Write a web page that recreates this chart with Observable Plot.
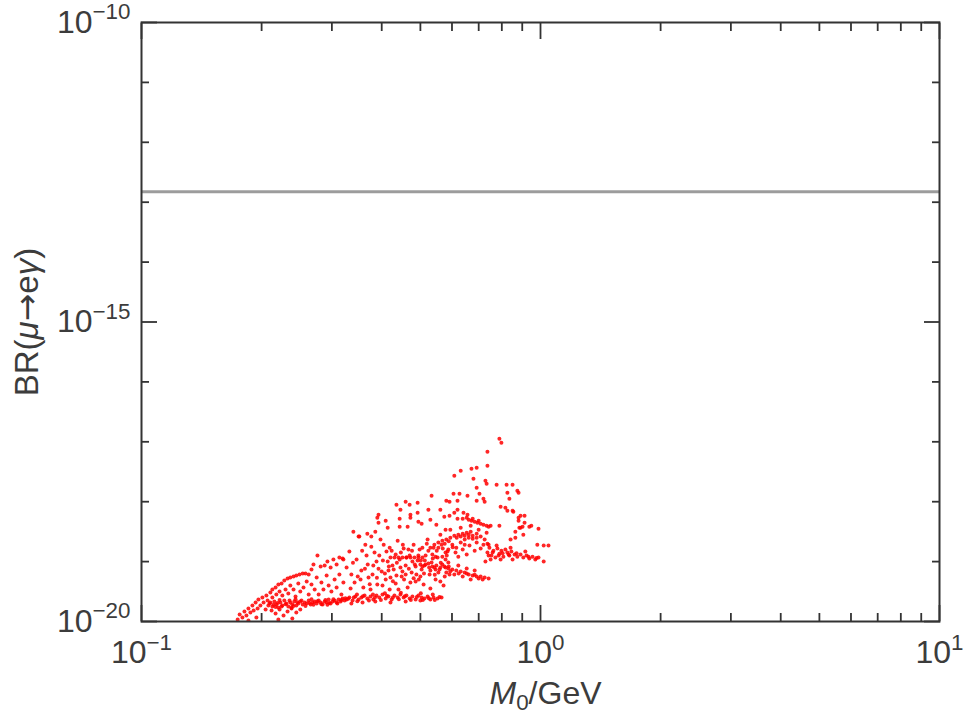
<!DOCTYPE html>
<html><head><meta charset="utf-8">
<script src="https://cdn.jsdelivr.net/npm/d3@7"></script>
<script src="https://cdn.jsdelivr.net/npm/@observablehq/plot@0.6"></script>
<style>html,body{margin:0;padding:0;background:#fff}</style>
</head><body><div id="chart"></div>
<script>
// Values, as [log10(M0/GeV), log10(BR)]
const tailPts = [[-0.759,-19.967],[-0.754,-19.883],[-0.747,-19.933],[-0.742,-19.833],[-0.737,-19.9],[-0.732,-19.783],[-0.727,-19.85],[-0.722,-19.733],[-0.719,-19.817],[-0.714,-19.683],[-0.709,-19.783],[-0.707,-19.633],[-0.702,-19.733],[-0.697,-19.6],[-0.694,-19.683],[-0.689,-19.8],[-0.687,-19.567],[-0.684,-19.65],[-0.732,-19.983],[-0.712,-19.933]];
const envelopePts = [[-0.677,-19.517],[-0.672,-19.467],[-0.664,-19.433],[-0.657,-19.383],[-0.649,-19.367],[-0.642,-19.317],[-0.634,-19.283],[-0.627,-19.267],[-0.619,-19.25],[-0.612,-19.233],[-0.604,-19.217],[-0.596,-19.2],[-0.589,-19.2],[-0.581,-19.217],[-0.574,-19.133],[-0.569,-19.05],[-0.559,-18.9],[-0.551,-19.083],[-0.541,-19.067],[-0.534,-19.0],[-0.526,-19.1],[-0.519,-18.967],[-0.511,-19.05],[-0.504,-18.933],[-0.496,-18.95]];
const interiorPts = [[-0.672,-19.6],[-0.662,-19.55],[-0.654,-19.5],[-0.647,-19.567],[-0.639,-19.467],[-0.632,-19.533],[-0.627,-19.4],[-0.619,-19.467],[-0.614,-19.583],[-0.607,-19.367],[-0.602,-19.5],[-0.594,-19.433],[-0.586,-19.333],[-0.581,-19.55],[-0.574,-19.383],[-0.566,-19.467],[-0.561,-19.267],[-0.556,-19.55],[-0.549,-19.35],[-0.544,-19.467],[-0.536,-19.233],[-0.531,-19.4],[-0.524,-19.5],[-0.516,-19.3],[-0.511,-19.433],[-0.504,-19.217],[-0.499,-19.55],[-0.494,-19.35]];
const lowBandPts = [[-0.682,-19.733],[-0.677,-19.683],[-0.672,-19.75],[-0.667,-19.667],[-0.662,-19.717],[-0.657,-19.767],[-0.652,-19.683],[-0.647,-19.733],[-0.642,-19.65],[-0.637,-19.7],[-0.632,-19.75],[-0.627,-19.683],[-0.622,-19.717],[-0.617,-19.667],[-0.612,-19.733],[-0.607,-19.7],[-0.602,-19.667],[-0.596,-19.717],[-0.591,-19.683],[-0.586,-19.7],[-0.581,-19.65],[-0.576,-19.717],[-0.571,-19.683],[-0.566,-19.667],[-0.561,-19.7],[-0.556,-19.65],[-0.551,-19.683],[-0.546,-19.717],[-0.541,-19.667],[-0.536,-19.683],[-0.531,-19.633],[-0.526,-19.7],[-0.521,-19.667],[-0.516,-19.65],[-0.511,-19.683],[-0.506,-19.633],[-0.501,-19.667],[-0.496,-19.617],[-0.491,-19.65],
 [-0.674,-19.817],[-0.664,-19.867],[-0.654,-19.8],[-0.644,-19.9],[-0.634,-19.833],[-0.624,-19.783],[-0.612,-19.85],[-0.602,-19.8],[-0.657,-19.967],[-0.622,-19.95],
 [-0.679,-19.7],[-0.669,-19.72],[-0.659,-19.69],[-0.649,-19.75],[-0.639,-19.71],[-0.629,-19.65],[-0.619,-19.74],[-0.609,-19.68],[-0.599,-19.65],[-0.589,-19.74],[-0.579,-19.69],[-0.569,-19.72],[-0.559,-19.66],[-0.549,-19.71],[-0.539,-19.64],[-0.529,-19.69],[-0.519,-19.63],[-0.509,-19.7],[-0.499,-19.64],[-0.489,-19.61],[-0.654,-19.64],[-0.614,-19.63],[-0.574,-19.63],[-0.534,-19.72],[-0.664,-19.76],[-0.624,-19.77]];
const lowBand2Pts = [[-0.486,-19.633],[-0.479,-19.6],[-0.471,-19.65],[-0.464,-19.583],[-0.456,-19.633],[-0.449,-19.6],[-0.441,-19.567],[-0.434,-19.617],[-0.426,-19.583],[-0.419,-19.633],[-0.411,-19.567],[-0.404,-19.6],[-0.396,-19.55],[-0.388,-19.617],[-0.381,-19.583],[-0.373,-19.633],[-0.366,-19.567],[-0.358,-19.6],[-0.351,-19.55],[-0.343,-19.6],[-0.336,-19.567],[-0.328,-19.617],[-0.321,-19.583],[-0.313,-19.633],[-0.306,-19.567],[-0.298,-19.6],[-0.291,-19.617],[-0.283,-19.583],[-0.276,-19.633],[-0.268,-19.6],[-0.258,-19.617],[-0.248,-19.6],[-0.474,-19.7],[-0.446,-19.683],[-0.414,-19.667],[-0.376,-19.683],[-0.338,-19.667],[-0.301,-19.65],
 [-0.482,-19.62],[-0.468,-19.6],[-0.459,-19.66],[-0.445,-19.58],[-0.43,-19.65],[-0.415,-19.6],[-0.4,-19.64],[-0.385,-19.57],[-0.37,-19.6],[-0.355,-19.63],[-0.34,-19.58],[-0.325,-19.64],[-0.31,-19.59],[-0.295,-19.64],[-0.28,-19.61],[-0.265,-19.64],[-0.253,-19.59],[-0.46,-19.55],[-0.42,-19.55],[-0.39,-19.53],[-0.35,-19.52],[-0.3,-19.53],[-0.27,-19.55]];
const cloudPts = [[-0.494,-18.967],[-0.486,-19.1],[-0.479,-18.833],[-0.474,-19.217],[-0.466,-19.35],[-0.461,-18.967],[-0.456,-18.583],[-0.449,-19.15],[-0.444,-19.433],[-0.436,-18.9],[-0.431,-19.267],[-0.424,-18.75],[-0.419,-19.067],[-0.414,-18.5],[-0.409,-19.383],[-0.404,-18.9],[-0.398,-19.167],[-0.393,-18.717],[-0.388,-19.3],[-0.383,-19.0],[-0.378,-19.467],[-0.373,-18.817],[-0.368,-19.133],[-0.363,-19.367],[-0.358,-18.65],[-0.353,-18.967],[-0.348,-19.25],[-0.343,-18.783],[-0.338,-19.067],[-0.333,-19.433],[-0.328,-18.9],[-0.323,-19.183],[-0.318,-18.717],[-0.313,-19.333],[-0.308,-18.983],[-0.303,-18.8],[-0.298,-19.133],[-0.293,-19.383],[-0.288,-18.9],[-0.283,-18.633],[-0.278,-19.217],[-0.273,-19.017],[-0.268,-18.767],[-0.263,-19.3],[-0.258,-18.933],[-0.253,-19.133],[-0.248,-18.717],[-0.243,-19.4],[-0.238,-18.967],[-0.233,-18.833],[-0.228,-19.217],
 [-0.451,-19.3],[-0.426,-19.467],[-0.401,-18.633],[-0.376,-19.267],[-0.351,-19.1],[-0.326,-19.35],[-0.301,-19.25],[-0.276,-19.45],[-0.251,-19.333],[-0.476,-19.45],[-0.439,-18.717],[-0.363,-18.883],[-0.338,-19.217],[-0.313,-19.083],[-0.288,-19.05],[-0.263,-19.133],[-0.238,-19.1],[-0.321,-19.0],[-0.306,-18.9],[-0.346,-19.167],[-0.371,-19.067],[-0.386,-18.833],[-0.411,-19.0],[-0.421,-19.217],[-0.396,-19.4],[-0.356,-19.467],[-0.331,-18.8],[-0.296,-18.767],[-0.271,-18.883],[-0.246,-18.917],[-0.231,-19.017],[-0.256,-18.767],[-0.281,-18.817],[-0.311,-19.217],[-0.336,-18.933],[-0.361,-19.233],[-0.381,-19.15],
 [-0.376,-18.933],[-0.366,-18.933],[-0.356,-18.933],[-0.346,-18.933],[-0.336,-18.933],[-0.326,-18.933],[-0.316,-18.933],[-0.306,-18.933],[-0.296,-18.933],
 [-0.469,-18.5],[-0.454,-18.583],[-0.434,-18.533],[-0.424,-18.583],
 [-0.47,-19.02],[-0.458,-19.25],[-0.447,-18.82],[-0.433,-19.05],[-0.428,-19.38],[-0.416,-18.85],[-0.406,-19.12],[-0.395,-18.98],[-0.39,-19.2],[-0.378,-18.77],[-0.37,-19.33],[-0.36,-19.02],[-0.35,-18.85],[-0.342,-19.3],[-0.33,-19.12],[-0.322,-18.82],[-0.315,-19.05],[-0.305,-19.3],[-0.3,-18.98],[-0.292,-19.2],[-0.285,-18.7],[-0.279,-19.1],[-0.27,-18.95],[-0.265,-19.22],[-0.26,-18.82],[-0.25,-19.02],[-0.245,-18.78],[-0.24,-19.25],[-0.235,-18.9],[-0.23,-19.08],[-0.44,-19.12],[-0.41,-19.27],[-0.38,-19.08],[-0.345,-18.72],[-0.318,-19.28],[-0.29,-18.98]];
const midStreakPts = [[-0.301,-19.05],[-0.291,-19.067],[-0.281,-19.033],[-0.271,-19.083],[-0.261,-19.067],[-0.251,-19.1],[-0.241,-19.083],[-0.231,-19.117],[-0.221,-19.133],[-0.211,-19.15],[-0.2,-19.167],[-0.19,-19.183],[-0.18,-19.217],[-0.17,-19.233],[-0.16,-19.25],[-0.15,-19.25],[-0.14,-19.267],[-0.13,-19.283],[-0.236,-19.183],[-0.216,-19.217],[-0.195,-19.25],[-0.175,-19.3],[-0.155,-19.283],[-0.206,-19.067],[-0.185,-19.117],[-0.165,-19.15],[-0.256,-19.183],[-0.276,-19.15],
 [-0.296,-19.08],[-0.266,-19.1],[-0.246,-19.05],[-0.226,-19.16],[-0.205,-19.2],[-0.185,-19.2],[-0.165,-19.22],[-0.145,-19.3]];
const risingPts = [[-0.276,-18.767],[-0.266,-18.717],[-0.256,-18.683],[-0.246,-18.65],[-0.236,-18.633],[-0.226,-18.6],[-0.216,-18.567],[-0.206,-18.55],[-0.195,-18.533],[-0.185,-18.517],[-0.175,-18.5],[-0.221,-18.717],[-0.211,-18.767],[-0.2,-18.683],[-0.19,-18.633],[-0.18,-18.6],[-0.17,-18.567],[-0.16,-18.533],[-0.15,-18.583],[-0.14,-18.633],[-0.231,-18.8],[-0.213,-18.85],[-0.195,-18.8],[-0.178,-18.733],[-0.16,-18.683],[-0.143,-18.717],[-0.206,-18.917],[-0.185,-18.883],[-0.165,-18.817],[-0.226,-18.467],[-0.2,-18.433],[-0.175,-18.4],[-0.155,-18.467],[-0.135,-18.517],[-0.251,-18.55],[-0.238,-18.85],[-0.263,-18.917],[-0.15,-18.783],[-0.133,-18.7],
 [-0.24,-18.7],[-0.23,-18.66],[-0.21,-18.6],[-0.2,-18.58],[-0.19,-18.57],[-0.18,-18.55],[-0.17,-18.62],[-0.16,-18.6],[-0.22,-18.76],[-0.19,-18.72]];
const rightPts = [[-0.133,-18.85],[-0.128,-18.767],[-0.123,-18.9],[-0.118,-18.817],[-0.113,-18.933],[-0.108,-18.783],[-0.103,-18.867],[-0.098,-18.817],[-0.093,-18.917],[-0.088,-18.8],[-0.083,-18.85],[-0.078,-18.9],[-0.073,-18.833],[-0.065,-18.883],[-0.058,-18.917],[-0.05,-18.883],[-0.043,-18.933],[-0.035,-18.9],[-0.028,-18.95],[-0.02,-18.917],[-0.013,-18.967],[-0.005,-18.933],[0.008,-19.0],[-0.125,-18.967],[-0.1,-18.967],[-0.075,-18.767],[-0.13,-18.717],[-0.11,-18.733],[-0.008,-18.717],[0.008,-18.733],[0.02,-18.733],[-0.038,-18.833],[-0.07,-18.967],[-0.138,-19.0],
 [-0.13,-18.9],[-0.12,-18.85],[-0.105,-18.9],[-0.095,-18.86],[-0.08,-18.88],[-0.06,-18.86],[-0.03,-18.92],[-0.01,-18.94]];
const upperRightPts = [[-0.1,-18.083],[-0.088,-18.1],[-0.083,-18.15],[-0.07,-18.15],[-0.068,-18.167],[-0.05,-18.233],[-0.04,-18.233],[-0.055,-18.267],[-0.055,-18.317],[-0.04,-18.35],[-0.053,-18.433],[-0.045,-18.417],[-0.028,-18.417],[-0.023,-18.4],[-0.005,-18.45],[-0.063,-18.5],[-0.05,-18.433],[-0.043,-18.55],[-0.063,-18.6],[-0.103,-18.4],[-0.125,-18.4],[-0.075,-18.633]];
const upperStreakPts = [[-0.208,-18.133],[-0.216,-18.183],[-0.193,-18.183],[-0.183,-18.217],[-0.208,-18.283],[-0.195,-18.283],[-0.18,-18.3],[-0.173,-18.317],[-0.165,-18.333],[-0.158,-18.35],[-0.15,-18.367],[-0.143,-18.383],[-0.135,-18.4],[-0.13,-18.417],[-0.185,-18.267],[-0.17,-18.283],[-0.155,-18.317],[-0.228,-18.233],[-0.241,-18.25]];
const scatterPts = [[-0.103,-16.95],[-0.098,-17.017],[-0.133,-17.167],[-0.133,-17.4],[-0.16,-17.433],[-0.173,-17.45],[-0.2,-17.483],[-0.216,-17.567],[-0.168,-17.617],[-0.138,-17.65],[-0.135,-17.7],[-0.11,-17.717],[-0.085,-17.717],[-0.07,-17.717],[-0.16,-17.767],[-0.153,-17.867],[-0.083,-17.85],[-0.058,-17.817],[-0.055,-17.85],[-0.078,-17.95],[-0.183,-17.9],[-0.203,-17.867],[-0.218,-17.867],[-0.16,-17.983],[-0.143,-17.95],[-0.14,-18.0],[-0.236,-17.983],[-0.228,-18.0],[-0.273,-17.9],[-0.281,-18.133],[-0.308,-18.183],[-0.326,-18.217],[-0.326,-18.267],[-0.351,-18.133],[-0.361,-18.05],[-0.338,-18.0],[-0.328,-18.05],[-0.308,-18.017],[-0.406,-18.217],[-0.409,-18.267],[-0.406,-18.35],[-0.388,-18.317],[-0.383,-18.433],[-0.353,-18.283],[-0.353,-18.417],[-0.333,-18.417],[-0.306,-18.333],[-0.298,-18.367],[-0.276,-18.3],[-0.261,-18.383],[-0.238,-18.467],[-0.208,-17.983],[-0.251,-18.133]];
const boundBR = 1.5e-13;
const xMajor = [0.1, 1, 10];
const xMinor = [0.2,0.3,0.4,0.5,0.6,0.7,0.8,0.9,2,3,4,5,6,7,8,9];
const yMajor = [1e-20, 1e-15, 1e-10];
const yMinor = [1e-19,1e-18,1e-17,1e-16,1e-14,1e-13,1e-12,1e-11];
const xTitle = "M0/GeV";
const yTitle = "BR(μ→eγ)";

const data = [tailPts, envelopePts, interiorPts, lowBandPts, lowBand2Pts, cloudPts, midStreakPts, risingPts, rightPts, upperRightPts, upperStreakPts, scatterPts]
  .flat().map(([lm, lb]) => ({M0: 10 ** lm, BR: 10 ** lb}));

const expFmt = d => "10^" + Math.round(Math.log10(d));
const tickOpts = {tickFormat: () => "", label: null, stroke: "#333", strokeWidth: 1.8};
const marks = [
  Plot.ruleY([boundBR], {stroke: "#9c9c9c", strokeWidth: 3}),
  Plot.dot(data, {x: "M0", y: "BR", r: 2, fill: "#ff0000", fillOpacity: 0.85, stroke: "none", clip: true}),
  Plot.frame({stroke: "#333", strokeWidth: 2})
];
for (const anchor of ["bottom", "top"]) {
  marks.push(Plot.axisX({anchor, ticks: xMajor, tickSize: -16, ...tickOpts}));
  marks.push(Plot.axisX({anchor, ticks: xMinor, tickSize: -8, ...tickOpts}));
}
for (const anchor of ["left", "right"]) {
  marks.push(Plot.axisY({anchor, ticks: yMajor, tickSize: -16, ...tickOpts}));
  marks.push(Plot.axisY({anchor, ticks: yMinor, tickSize: -8, ...tickOpts}));
}
marks.push(Plot.axisX({anchor: "bottom", ticks: xMajor, tickSize: 0, tickPadding: 19, tickFormat: expFmt, fontSize: 32, label: null}));
marks.push(Plot.axisY({anchor: "left", ticks: yMajor, tickSize: 0, tickPadding: 11, tickFormat: expFmt, fontSize: 32, label: null}));
marks.push(Plot.text([xTitle], {text: d => d, frameAnchor: "bottom", dx: 5, dy: 82, fontSize: 32, textAnchor: "middle"}));
marks.push(Plot.text([yTitle], {text: d => d, frameAnchor: "left", dx: -114, rotate: -90, fontSize: 33, textAnchor: "middle"}));

const svg = Plot.plot({
  width: 968, height: 719,
  marginLeft: 141, marginRight: 29, marginTop: 22, marginBottom: 98,
  x: {type: "log", domain: [0.1, 10]},
  y: {type: "log", domain: [1e-20, 1e-10]},
  style: {fontFamily: "'Liberation Sans', Arial, sans-serif", background: "#fff", color: "#3c3c3c", overflow: "visible"},
  marks
});
document.getElementById("chart").appendChild(svg);

const NS = "http://www.w3.org/2000/svg";
function tspan(parent, txt, attrs = {}) {
  const t = document.createElementNS(NS, "tspan");
  for (const [k, v] of Object.entries(attrs)) t.setAttribute(k, v);
  t.textContent = txt;
  parent.appendChild(t);
  return t;
}
svg.querySelectorAll("text").forEach(t => {
  const s = t.textContent;
  const m = /^10\^(.+)$/.exec(s);
  if (m) {
    t.textContent = "10";
    tspan(t, m[1].replace("-", "−"), {dy: "-0.6em", "font-size": "0.7em"});
  } else if (s === xTitle) {
    t.textContent = "";
    tspan(t, "M", {"font-style": "italic"});
    tspan(t, "0", {dy: "0.3em", "font-size": "0.7em"});
    tspan(t, "/GeV", {dy: "-0.21em"});
  } else if (s === yTitle) {
    t.textContent = "";
    tspan(t, "BR(");
    tspan(t, "μ", {"font-style": "italic"});
    tspan(t, "→", {"font-family": "'DejaVu Sans', sans-serif"});
    tspan(t, "e");
    tspan(t, "γ", {"font-style": "italic"});
    tspan(t, ")");
  }
});
</script>
</body></html>
